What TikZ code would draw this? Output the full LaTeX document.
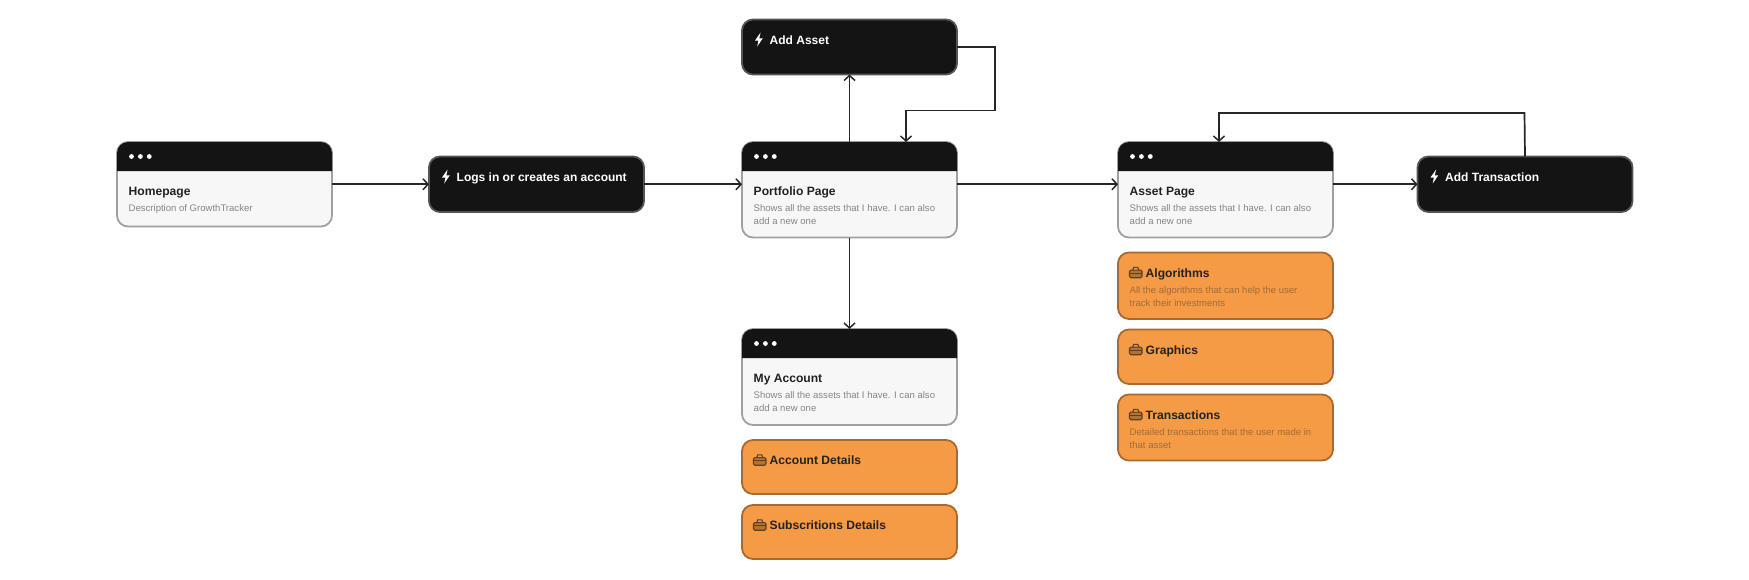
\documentclass[tikz,border=0pt]{standalone}
\usepackage{fontspec}
\setmainfont{Liberation Sans}
\usetikzlibrary{arrows.meta,calc}
\definecolor{ink}{HTML}{141414}
\definecolor{inkedge}{HTML}{555555}
\definecolor{paper}{HTML}{F7F7F7}
\definecolor{paperedge}{HTML}{A0A0A0}
\definecolor{amber}{HTML}{F59B45}
\definecolor{amberedge}{HTML}{A86A30}
\definecolor{wire}{HTML}{262626}
\definecolor{greytext}{HTML}{858585}
\definecolor{ambertext}{HTML}{A06C3A}
\definecolor{titletext}{HTML}{222222}
\definecolor{iconline}{HTML}{5E4020}
\tikzset{
  boxbase/.style={rectangle,rounded corners=11pt,outer sep=0pt,minimum width=215pt,line width=1.8pt,inner sep=0pt},
  winbox/.style={boxbase,draw=paperedge,fill=paper},
  actbox/.style={boxbase,draw=inkedge,fill=ink},
  orgbox/.style={boxbase,draw=amberedge,fill=amber},
  ttl/.style={anchor=base west,inner sep=0pt,text=titletext,font=\fontsize{12.1}{16}\selectfont\bfseries},
  acttxt/.style={anchor=base west,inner sep=0pt,text=white,font=\fontsize{12}{16}\selectfont\bfseries},
  dsc/.style={anchor=north west,inner sep=0pt,align=left,text=greytext,font=\fontsize{9.55}{13.2}\selectfont},
  orgdsc/.style={dsc,text=ambertext},
  conn/.style={draw=wire,line width=1.7pt,-{Straight Barb[length=5pt,width=11pt,line width=1.5pt]}},
}
% name, centre x, top, bottom, title, description
\newcommand\windowcard[6]{%
  \node[winbox,minimum height=#4pt-#3pt] (#1) at (#2,{(#3+#4)/2}) {};
  \fill[ink] (#1.north west|-0,#3+29) [rounded corners=11pt] -- (#1.north west) -- (#1.north east) [sharp corners] -- (#1.north east|-0,#3+29) -- cycle;
  \foreach \k in {0,1,2} \fill[white] ($(#1.north west)+(14.5+\k*8.9,14.5)$) circle (2.4pt);
  \node[ttl] (#1title) at ($(#1.north west)+(11.5,53.5)$) {#5};
  \node[dsc] (#1desc) at ($(#1.north west)+(11.5,62.3)$) {#6};
}
% name, centre x, top, bottom, title
\newcommand\actioncard[5]{%
  \node[actbox,minimum height=#4pt-#3pt] (#1) at (#2,{(#3+#4)/2}) {};
  \fill[white] ($(#1.north west)+(18.6,13)$) -- ++(-5.6,8) -- ++(3.4,0) -- ++(-1.2,6) -- ++(5.6,-8.2) -- ++(-3.5,0) -- ++(1.3,-5.8) -- cycle;
  \node[acttxt] (#1title) at ($(#1.north west)+(27.5,24.5)$) {#5};
}
% name, centre x, top, bottom, title, description
\newcommand\workcard[6]{%
  \node[orgbox,minimum height=#4pt-#3pt] (#1) at (#2,{(#3+#4)/2}) {};
  \begin{scope}[shift={($(#1.north west)+(11.5,14.2)$)}]
    \draw[iconline,fill=iconline!45!amber,line width=1.1pt,rounded corners=1.3pt] (0,3.4) rectangle (12.5,11);
    \draw[iconline,line width=1.1pt] (3.2,3.4) -- (4.2,0.6) -- (8.3,0.6) -- (9.3,3.4);
    \draw[iconline,line width=.8pt] (0,6.6) -- (12.5,6.6);
  \end{scope}
  \node[ttl] (#1title) at ($(#1.north west)+(27.5,24.5)$) {#5};
  \node[orgdsc] (#1desc) at ($(#1.north west)+(11.5,34)$) {#6};
}
\begin{document}
\begin{tikzpicture}[x=1pt,y=-1pt]
\useasboundingbox (0,0) rectangle (1749,579);
\windowcard{home}{224.5}{142}{226.5}{Homepage}{Description of GrowthTracker}
\actioncard{logs}{536.5}{156.5}{212}{Logs in or creates an account}
\windowcard{port}{849.5}{142}{237.5}{Portfolio Page}{Shows all the assets that I have. I can also\\add a new one}
\actioncard{addasset}{849.5}{19.5}{74.5}{Add Asset}
\windowcard{acct}{849.5}{329}{425}{My Account}{Shows all the assets that I have. I can also\\add a new one}
\workcard{acctd}{849.5}{440}{494}{Account Details}{}
\workcard{subs}{849.5}{505}{559}{Subscritions Details}{}
\windowcard{asset}{1225.5}{142}{237.5}{Asset Page}{Shows all the assets that I have. I can also\\add a new one}
\workcard{algo}{1225.5}{252.5}{319}{Algorithms}{All the algorithms that can help the user\\track their investments}
\workcard{graph}{1225.5}{329.5}{384}{Graphics}{}
\workcard{trans}{1225.5}{394.5}{460.5}{Transactions}{Detailed transactions that the user made in\\that asset}
\actioncard{addtx}{1525}{156.5}{212}{Add Transaction}
\coordinate (a1) at (995,47);
\coordinate (a2) at (995,110.5);
\coordinate (a3) at (906,110.5);
\coordinate (t1) at (1524.5,113);
\coordinate (t2) at (1219,113);
\draw[conn] (home.east) -- (logs.west);
\draw[conn] (logs.east) -- (logs.east-|port.west);
\draw[conn] (port.north) -- (addasset.south);
\draw[conn] (addasset.east) -- (a1) -- (a2) -- (a3) -- (a3|-port.north);
\draw[conn] (logs.east-|port.east) -- (logs.east-|asset.west);
\draw[conn] (port.south) -- (acct.north);
\draw[conn] (logs.east-|asset.east) -- (logs.east-|addtx.west);
\draw[conn] (addtx.north) -- (t1) -- (t2) -- (t2|-asset.north);
\end{tikzpicture}
\end{document}
